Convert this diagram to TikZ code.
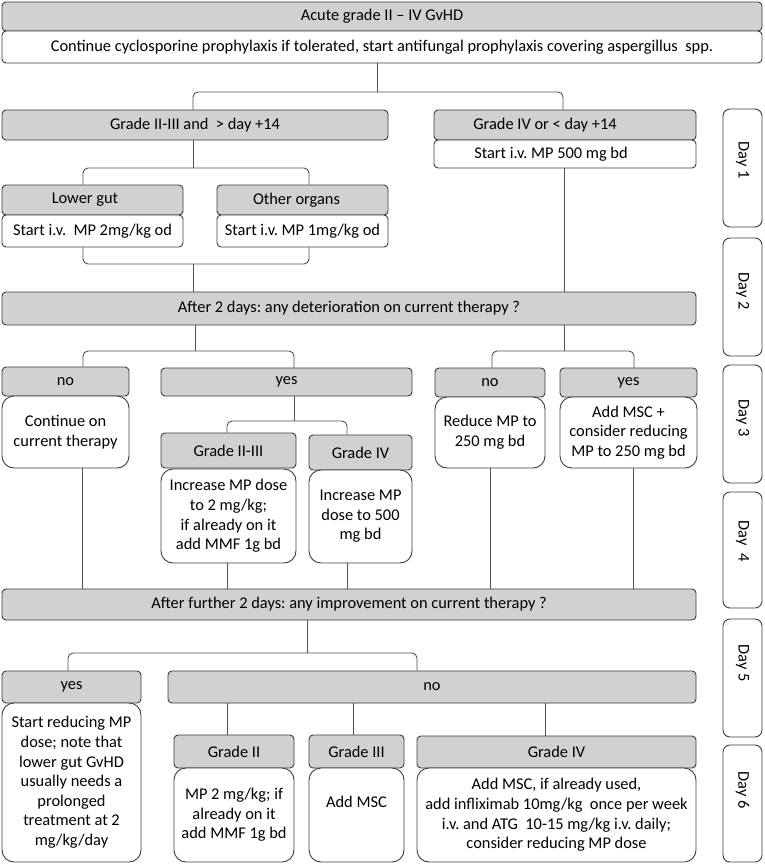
\documentclass[tikz,border=0pt]{standalone}
\usepackage{fontspec}
\setmainfont{Carlito}
\frenchspacing
\definecolor{hdr}{RGB}{209,209,209}
\definecolor{edge}{RGB}{60,60,60}
\definecolor{wire}{RGB}{80,80,80}
\newcommand\mkbox[7]{\node[#1, minimum width={(#5)-(#3)}, minimum height={(#6)-(#4)}] (#2) at ({((#3)+(#5))/2},{((#4)+(#6))/2}) {#7};}
\begin{document}
\begin{tikzpicture}[x=1pt,y=-1pt,
  box/.style={draw=edge, line width=0.9pt, rounded corners=4pt, inner sep=0pt, align=center, font=\fontsize{16.4}{19.6}\selectfont\frenchspacing},
  hdrbox/.style={box, fill=hdr},
  wbox/.style={box, fill=white},
  rbox/.style={box, fill=white, rounded corners=12pt},
  daybox/.style={box, fill=white, rounded corners=7pt},
  conn/.style={draw=wire, line width=0.9pt, rounded corners=5pt},
  txt/.style={inner sep=0pt, align=center, font=\fontsize{16.4}{19.6}\selectfont\frenchspacing},
  daytxt/.style={txt, rotate=-90}]
\useasboundingbox (0,0) rectangle (764,864);
\fill[white] (0,0) rectangle (764,864);

% ---------- top ----------
\mkbox{hdrbox}{title}{2}{2}{762}{31}{Acute grade II -- IV GvHD}
\mkbox{wbox}{cont}{2}{31}{762}{63}{Continue cyclosporine prophylaxis if tolerated, start antifungal prophylaxis covering aspergillus\ \ spp.}

% ---------- day 1 ----------
\mkbox{hdrbox}{g23}{2}{110}{388}{140}{Grade II-III and\ \ > day +14}
\mkbox{hdrbox}{g4}{434}{110}{696}{140}{Grade IV or < day +14\hspace*{40pt}}
\mkbox{wbox}{mp500}{434}{140}{696}{168}{Start i.v. MP 500 mg bd\hspace*{28pt}}
\mkbox{hdrbox}{lg}{2}{185}{183}{215}{Lower gut\hspace*{15pt}}
\mkbox{wbox}{lgw}{2}{215}{183}{247}{Start i.v.\ \ MP 2mg/kg od}
\mkbox{hdrbox}{oo}{217}{185}{388}{215}{Other organs\hspace*{12pt}}
\mkbox{wbox}{oow}{217}{215}{388}{247}{Start i.v. MP 1mg/kg od}

% ---------- day 2 ----------
\mkbox{hdrbox}{after2}{2}{292}{696}{325}{After 2 days: any deterioration on current therapy ?}

% ---------- day 3/4 ----------
\mkbox{hdrbox}{no1}{2}{367}{129}{396}{no}
\mkbox{rbox}{no1w}{2}{396}{129}{468}{Continue on\\current therapy}
\mkbox{hdrbox}{yes1}{161}{368}{412}{396}{yes}
\mkbox{hdrbox}{g23b}{161}{433}{296}{468}{Grade II-III}
\mkbox{hdrbox}{g4b}{309}{435}{412}{470}{Grade IV}
\mkbox{rbox}{inc1}{161}{469}{296}{563}{Increase MP dose\\to 2 mg/kg;\\if already on it\\add MMF 1g bd}
\mkbox{rbox}{inc2}{309}{470}{412}{563}{Increase MP\\dose to 500\\mg bd}
\mkbox{hdrbox}{no2}{435}{368}{545}{397}{no}
\mkbox{rbox}{no2w}{435}{397}{545}{468}{Reduce MP to\\250 mg bd}
\mkbox{hdrbox}{yes2}{560}{368}{697}{397}{yes}
\mkbox{rbox}{yes2w}{560}{397}{697}{468}{Add MSC +\\consider reducing\\MP to 250 mg bd}

% ---------- day 4/5 ----------
\mkbox{hdrbox}{after4}{2}{589}{696}{620}{After further 2 days: any improvement on current therapy ?}
\mkbox{hdrbox}{yes3}{2}{671}{141}{703}{yes}
\mkbox{rbox}{yes3w}{2}{703}{141}{862}{Start reducing MP\\dose; note that\\lower gut GvHD\\usually needs a\\prolonged\\treatment at 2\\mg/kg/day}
\mkbox{hdrbox}{no3}{168}{671}{696}{703}{no}

% ---------- day 6 ----------
\mkbox{hdrbox}{gII}{174}{735}{294}{768}{Grade II}
\mkbox{rbox}{gIIw}{174}{768}{294}{862}{MP 2 mg/kg; if\\already on it\\add MMF 1g bd}
\mkbox{hdrbox}{gIII}{309}{735}{404}{768}{Grade III}
\mkbox{rbox}{gIIIw}{309}{768}{404}{862}{}
\node[txt] (gIIIt) at (356.5,802) {Add MSC};
\mkbox{hdrbox}{gIV}{417}{736}{696}{768}{Grade IV}
\mkbox{rbox}{gIVw}{417}{768}{696}{862}{Add MSC, if already used,\\add infliximab 10mg/kg\ \ once per week\\i.v. and ATG\ \ 10-15 mg/kg i.v. daily;\\consider reducing MP dose}

% ---------- day column ----------
\mkbox{daybox}{d1}{723}{109}{762}{227}{}
\mkbox{daybox}{d2}{723}{238}{762}{356}{}
\mkbox{daybox}{d3}{723}{365}{762}{483}{}
\mkbox{daybox}{d4}{723}{492}{762}{608}{}
\mkbox{daybox}{d5}{723}{619}{762}{737}{}
\mkbox{daybox}{d6}{723}{745}{762}{862}{}
\node[daytxt] (d1t) at (742.5,160) {Day 1};
\node[daytxt] (d2t) at (742.5,291) {Day 2};
\node[daytxt] (d3t) at (742.5,418) {Day 3};
\node[daytxt] (d4t) at (742.5,541) {Day\ \ 4};
\node[daytxt] (d5t) at (742.5,663) {Day 5};
\node[daytxt] (d6t) at (742.5,790) {Day 6};

% ---------- connector coordinates ----------
\coordinate (b1) at (377,92);  \coordinate (b1L) at (193,92);  \coordinate (b1R) at (563,92);
\coordinate (b2) at (193,168); \coordinate (b2L) at (83,168);  \coordinate (b2R) at (309,168);
\coordinate (b3) at (193,264); \coordinate (b3L) at (83,264);  \coordinate (b3R) at (309,264);
\coordinate (v1) at (564,200);
\coordinate (b4) at (195,351); \coordinate (b4L) at (83,351);  \coordinate (b4R) at (294,351);
\coordinate (b5) at (564,351); \coordinate (b5L) at (492,351); \coordinate (b5R) at (634,351);
\coordinate (b6) at (294,421); \coordinate (b6L) at (227,421); \coordinate (b6R) at (347,421);
\coordinate (va) at (82,500);  \coordinate (vb) at (227,580);  \coordinate (vc) at (347,580);
\coordinate (vd) at (490,500); \coordinate (ve) at (633,500);
\coordinate (b7) at (307,653); \coordinate (b7L) at (68,653);  \coordinate (b7R) at (417,653);
\coordinate (vf) at (227,720); \coordinate (vg) at (353,720);  \coordinate (vh) at (545,720);

% ---------- connectors ----------
\draw[conn] (cont.south -| b1) -- (b1);
\draw[conn] (g23.north -| b1L) -- (b1L) -- (b1R) -- (g4.north -| b1R);
\draw[conn] (g23.south -| b2) -- (b2);
\draw[conn] (lg.north -| b2L) -- (b2L) -- (b2R) -- (oo.north -| b2R);
\draw[conn] (lgw.south -| b3L) -- (b3L) -- (b3R) -- (oow.south -| b3R);
\draw[conn] (b3) -- (after2.north -| b3);
\draw[conn] (mp500.south -| v1) -- (after2.north -| v1);
\draw[conn] (after2.south -| b4) -- (b4);
\draw[conn] (no1.north -| b4L) -- (b4L) -- (b4R) -- (yes1.north -| b4R);
\draw[conn] (after2.south -| b5) -- (b5);
\draw[conn] (no2.north -| b5L) -- (b5L) -- (b5R) -- (yes2.north -| b5R);
\draw[conn] (yes1.south -| b6) -- (b6);
\draw[conn] (g23b.north -| b6L) -- (b6L) -- (b6R) -- (g4b.north -| b6R);
\draw[conn] (no1w.south -| va) -- (after4.north -| va);
\draw[conn] (inc1.south -| vb) -- (after4.north -| vb);
\draw[conn] (inc2.south -| vc) -- (after4.north -| vc);
\draw[conn] (no2w.south -| vd) -- (after4.north -| vd);
\draw[conn] (yes2w.south -| ve) -- (after4.north -| ve);
\draw[conn] (after4.south -| b7) -- (b7);
\draw[conn] (yes3.north -| b7L) -- (b7L) -- (b7R) -- (no3.north -| b7R);
\draw[conn] (no3.south -| vf) -- (gII.north -| vf);
\draw[conn] (no3.south -| vg) -- (gIII.north -| vg);
\draw[conn] (no3.south -| vh) -- (gIV.north -| vh);
\end{tikzpicture}
\end{document}
